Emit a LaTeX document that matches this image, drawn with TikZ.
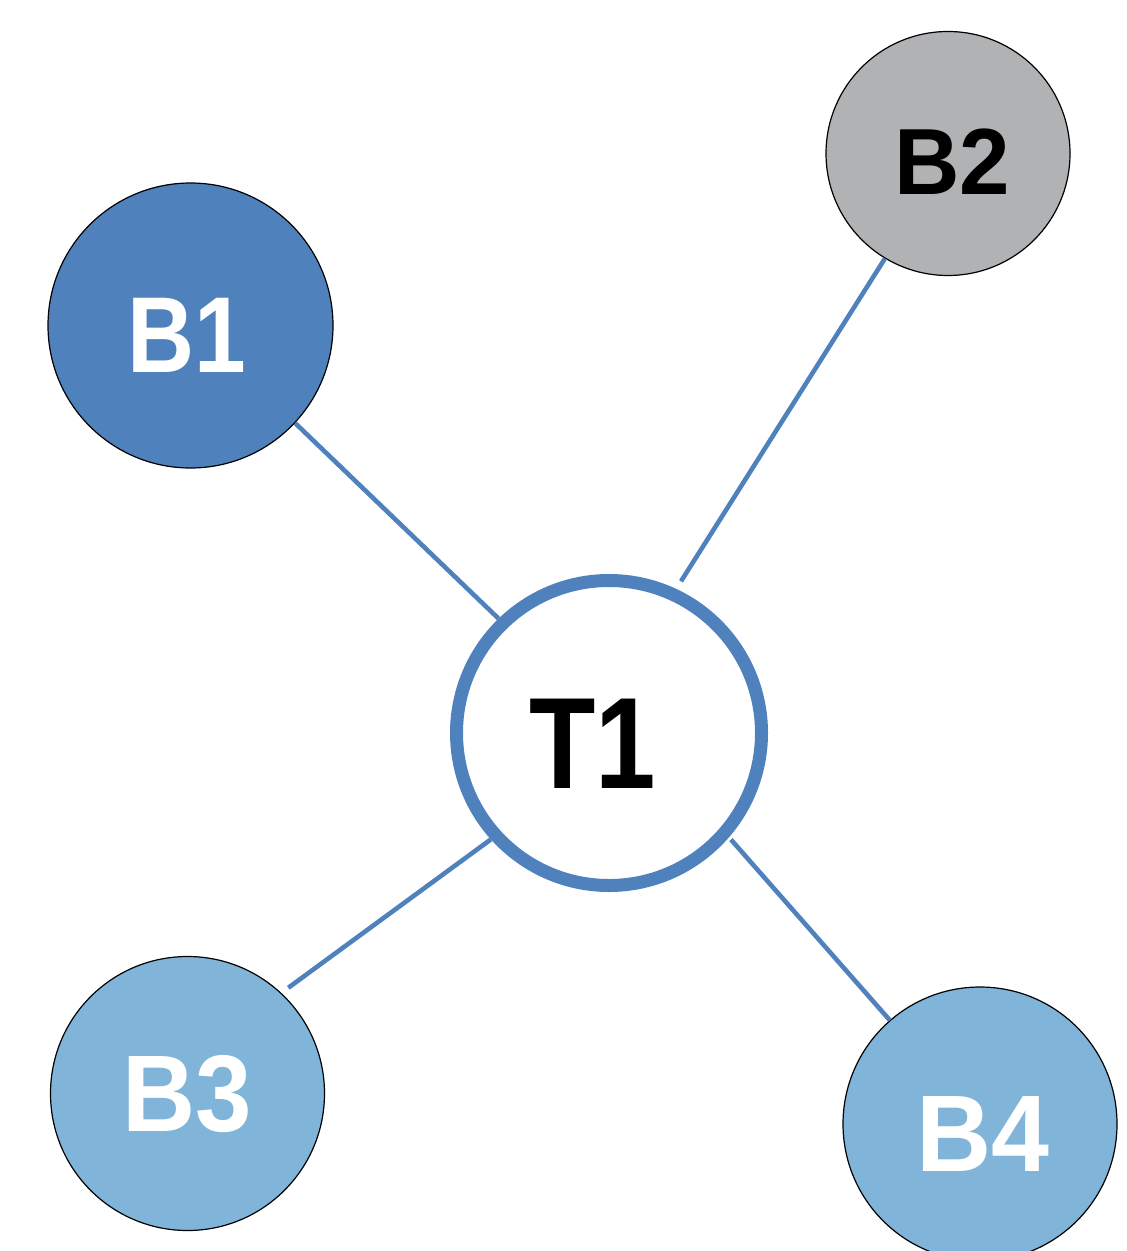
\documentclass[tikz,border=0pt]{standalone}
\usepackage{fontspec}
\setmainfont{Liberation Sans}
\definecolor{darkblue}{HTML}{4F81BD}
\definecolor{lightblue}{HTML}{80B4D9}
\definecolor{lightgray}{HTML}{B1B2B4}
\definecolor{linkblue}{HTML}{4F81BD}
% horizontally condensed bold label text
\newcommand{\narrowlabel}[2]{\scalebox{#1}[1]{#2}}
\begin{document}
\begin{tikzpicture}[x=0.5pt,y=-0.5pt,
  bubble/.style={circle,draw=black,line width=0.6pt,inner sep=0pt},
  hub/.style={circle,draw=linkblue,line width=6.5pt,fill=white,inner sep=0pt,minimum size=152.5pt},
  tag/.style={inner sep=0pt,font=\bfseries\fontsize{#1}{#1}\selectfont},
  link/.style={draw=linkblue,line width=2.3pt}]
  \useasboundingbox (0,0) rectangle (1126,1251);
  \clip (0,0) rectangle (1126,1251);

  % outer bubbles
  \node[bubble,fill=darkblue,minimum size=142.5pt] (B1) at (190.5,325.5) {};
  \node[bubble,fill=lightgray,minimum size=122pt] (B2) at (948,153.5) {};
  \node[bubble,fill=lightblue,minimum size=137pt] (B3) at (187.5,1093.5) {};
  \node[bubble,fill=lightblue,minimum size=137pt] (B4) at (980,1124) {};

  % central hub
  \node[hub] (T1) at (609,733) {};

  % links from the hub to each bubble
  \draw[link] (B1.-43) -- (T1.134.5);
  \draw[link,shorten >=4.5pt] (B2.239) -- (T1.65);
  \draw[link,shorten <=4.3pt] (B3.47) -- (T1.222);
  \draw[link,shorten <=1.5pt] (T1.-41.5) -- (B4.131);

  % labels
  \node[tag=54,text=white] (B1text) at (186.5,335.5) {\narrowlabel{0.86}{B1}};
  \node[tag=47] (B2text) at (952,161.5) {\narrowlabel{0.965}{B2}};
  \node[tag=54.5,text=white] (B3text) at (187.5,1094) {\narrowlabel{0.93}{B3}};
  \node[tag=54.5,text=white] (B4text) at (983,1134) {\narrowlabel{0.955}{B4}};
  \node[tag=65] (T1text) at (593,743.5) {\narrowlabel{0.835}{T1}};
\end{tikzpicture}
\end{document}
